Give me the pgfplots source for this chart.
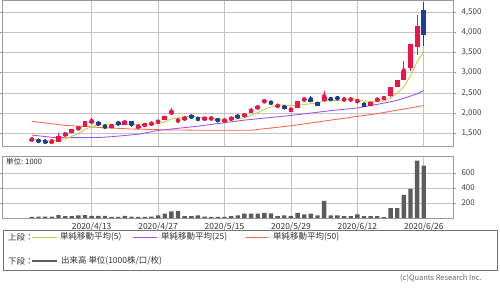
\documentclass[border=0pt]{standalone}
\usepackage{fontspec}
\setmainfont{Noto Sans CJK JP}
\usepackage{pgfplots}
\usepackage{pgfplotstable}
\pgfplotsset{compat=1.18}

\definecolor{candlered}{HTML}{EC1549}
\definecolor{candleblue}{HTML}{1B3F92}
\definecolor{mafive}{HTML}{B9D43A}
\definecolor{matwentyfive}{HTML}{A64DF2}
\definecolor{mafifty}{HTML}{F2694A}
\definecolor{volgray}{HTML}{5C5C5C}
\definecolor{gridgray}{HTML}{C4C4C4}
\definecolor{framegray}{HTML}{9A9A9A}

% up (red) candles: index open high low close
\pgfplotstableread{
i o h l c
0 1345 1370 1330 1355
3 1280 1340 1270 1300
4 1290 1510 1280 1430
5 1430 1540 1420 1520
6 1520 1610 1510 1600
7 1600 1665 1590 1655
8 1665 1810 1660 1800
9 1785 1880 1740 1795
12 1640 1730 1630 1720
14 1720 1840 1710 1820
16 1640 1720 1630 1680
17 1680 1750 1670 1740
18 1735 1770 1720 1745
19 1750 1840 1740 1830
20 1840 1935 1830 1925
21 1970 2120 1960 2050
22 1780 1870 1770 1860
23 1830 1920 1820 1910
26 1830 1910 1820 1900
27 1865 1890 1855 1875
29 1800 1850 1790 1840
30 1830 1910 1820 1900
32 1910 2000 1900 1990
33 2010 2120 2000 2110
34 2110 2190 2100 2175
35 2285 2330 2270 2305
37 2175 2210 2160 2190
39 2030 2150 2020 2135
40 2135 2310 2125 2300
41 2330 2360 2320 2350
44 2300 2550 2290 2400
47 2330 2360 2325 2350
48 2335 2350 2330 2345
49 2290 2320 2280 2310
51 2190 2280 2180 2270
52 2310 2370 2300 2360
53 2340 2420 2330 2410
54 2420 2660 2410 2650
55 2650 2830 2640 2820
56 2830 3290 2820 3040
57 3120 3720 3040 3710
58 3650 4440 3430 4150
}\upcandles

% down (blue) candles
\pgfplotstableread{
i o h l c
1 1330 1340 1295 1305
2 1310 1320 1275 1285
10 1790 1800 1690 1700
11 1700 1710 1630 1640
13 1780 1790 1710 1720
15 1800 1810 1650 1700
24 1950 1960 1870 1880
25 1890 1900 1820 1830
28 1860 1870 1790 1800
31 1945 1955 1880 1890
36 2300 2310 2210 2220
38 2190 2200 2100 2110
42 2360 2420 2280 2290
43 2270 2290 2170 2190
45 2360 2375 2330 2340
46 2380 2400 2350 2360
50 2260 2270 2150 2160
59 4560 4760 3670 3940
}\downcandles

% simple moving average (5)
\pgfplotstableread{
i v
0 1370
1 1345
2 1320
3 1315
4 1335
5 1368
6 1427
7 1501
8 1601
9 1674
10 1710
11 1718
12 1731
13 1715
14 1720
15 1720
16 1728
17 1732
18 1737
19 1739
20 1784
21 1858
22 1882
23 1915
24 1925
25 1906
26 1876
27 1879
28 1857
29 1849
30 1863
31 1861
32 1884
33 1946
34 2013
35 2094
36 2160
37 2200
38 2200
39 2192
40 2191
41 2217
42 2237
43 2253
44 2306
45 2314
46 2316
47 2328
48 2359
49 2341
50 2305
51 2287
52 2289
53 2302
54 2370
55 2502
56 2656
57 2926
58 3274
59 3532
}\mafivetab

% simple moving average (25)
\pgfplotstableread{
i v
0 1460
3 1405
5 1395
10 1400
12 1420
16 1480
19 1575
25 1680
32 1830
39 1945
45 2065
49 2130
53 2250
55 2320
56 2370
58 2480
59 2560
}\matwentyfivetab

% simple moving average (50)
\pgfplotstableread{
i v
0 1800
5 1700
8 1670
10 1650
15 1610
20 1590
25 1580
33 1580
39 1690
45 1830
52 1990
59 2190
}\mafiftytab

% volume (x1000)
\pgfplotstableread{
i v
0 15
1 20
2 20
3 20
4 40
5 25
6 25
7 35
8 40
9 30
10 30
11 30
12 15
13 15
14 30
15 20
16 15
17 15
18 20
19 35
20 60
21 90
22 95
23 25
24 25
25 35
26 20
27 15
28 15
29 15
30 25
31 35
32 60
33 60
34 60
35 70
36 62
37 25
38 35
39 25
40 70
41 50
42 60
43 35
44 230
45 35
46 35
47 25
48 25
49 50
50 25
51 25
52 25
53 12
54 133
55 133
56 310
57 390
58 765
59 698
}\voltab

\pgfplotsset{
  panel/.style={
    scale only axis, width=451bp,
    xmin=-4.5, xmax=63.4,
    xtick={9,19,29,39,49,59},
    grid=major,
    grid style={color=gridgray, line width=0.6bp},
    axis line style={color=framegray, line width=0.7bp},
    tick style={color=framegray, line width=0.6bp},
    yticklabel pos=right,
    tick align=outside,
    xtick style={draw=none},
    major tick length=3bp,
    yticklabel style={font=\fontsize{8}{9}\selectfont, text=black!75, anchor=west, xshift=2bp},
    /pgf/number format/assume math mode=true,
    /pgf/number format/1000 sep={,},
  },
}

\begin{document}
\begin{tikzpicture}
\path[use as bounding box] (0,0) rectangle (500bp,-289bp);

\begin{axis}[panel, at={(2bp,0bp)}, anchor=north west, height=146bp,
  ymin=1190, ymax=4800, ytick={1500,2000,...,4500},
  xticklabels={}]
  % moving averages
  \addplot[mafifty, line width=0.85bp, mark=none] table[x=i, y=v] {\mafiftytab};
  \addplot[matwentyfive, line width=0.85bp, mark=none] table[x=i, y=v] {\matwentyfivetab};
  \addplot[mafive, line width=0.85bp, mark=none] table[x=i, y=v] {\mafivetab};
  % wicks
  \addplot[candlered, only marks, mark=none,
    error bars/.cd, y dir=both, y explicit, error mark=none,
    error bar style={line width=0.9bp, color=candlered}]
    table[x=i, y expr={(\thisrow{h}+\thisrow{l})/2}, y error expr={(\thisrow{h}-\thisrow{l})/2}] {\upcandles};
  \addplot[candleblue, only marks, mark=none,
    error bars/.cd, y dir=both, y explicit, error mark=none,
    error bar style={line width=0.9bp, color=candleblue}]
    table[x=i, y expr={(\thisrow{h}+\thisrow{l})/2}, y error expr={(\thisrow{h}-\thisrow{l})/2}] {\downcandles};
  % bodies
  \addplot[candlered, only marks, mark=none,
    error bars/.cd, y dir=both, y explicit, error mark=none,
    error bar style={line width=4.8bp, color=candlered}]
    table[x=i, y expr={(\thisrow{o}+\thisrow{c})/2}, y error expr={max(abs(\thisrow{c}-\thisrow{o})/2,9)}] {\upcandles};
  \addplot[candleblue, only marks, mark=none,
    error bars/.cd, y dir=both, y explicit, error mark=none,
    error bar style={line width=4.8bp, color=candleblue}]
    table[x=i, y expr={(\thisrow{o}+\thisrow{c})/2}, y error expr={max(abs(\thisrow{c}-\thisrow{o})/2,9)}] {\downcandles};
\end{axis}

\begin{axis}[panel, at={(2bp,-156bp)}, anchor=north west, height=62bp,
  ymin=0, ymax=827, ytick={200,400,600},
  xticklabels={2020/4/13,2020/4/27,2020/5/15,2020/5/29,2020/6/12,2020/6/26},
  xticklabel style={font=\fontsize{8.5}{9}\selectfont, text=black!80, yshift=2bp}]
  \addplot[ybar, bar width=4.4bp, fill=volgray, draw=none] table[x=i, y=v] {\voltab};
\end{axis}

\node[anchor=west, font=\fontsize{7.5}{8}\selectfont, text=black!85, inner sep=0pt] at (6bp,-162bp) {単位: 1000};

% legend box
\draw[color=black!55, line width=0.8bp] (3bp,-230bp) rectangle (497bp,-270bp);
\begin{scope}[every node/.style={anchor=west, inner sep=0pt, font=\fontsize{8.5}{9}\selectfont, text=black!80}]
  \node at (8bp,-237bp) {上段：};
  \draw[mafive, line width=0.8bp] (32bp,-237bp) -- (57bp,-237bp);
  \node at (60bp,-237bp) {単純移動平均(5)};
  \draw[matwentyfive, line width=0.8bp] (133bp,-237bp) -- (157bp,-237bp);
  \node at (161bp,-237bp) {単純移動平均(25)};
  \draw[mafifty, line width=0.8bp] (246bp,-237bp) -- (268bp,-237bp);
  \node at (273bp,-237bp) {単純移動平均(50)};
  \node at (8bp,-261bp) {下段：};
  \draw[volgray, line width=2bp] (32bp,-261bp) -- (57bp,-261bp);
  \node at (61bp,-261bp) {出来高 単位(1000株/口/枚)};
\end{scope}
\node[anchor=east, inner sep=0pt, font=\fontsize{7.5}{8}\selectfont, text=black!60] at (482bp,-278.5bp) {(c)Quants Research Inc.};
\end{tikzpicture}
\end{document}
